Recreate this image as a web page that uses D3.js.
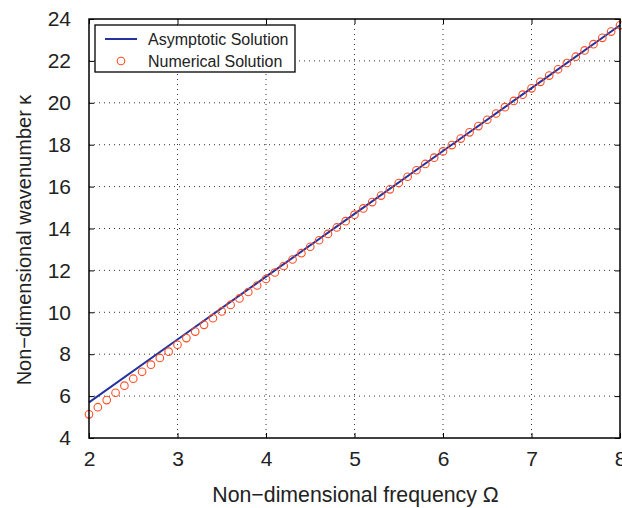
<!DOCTYPE html>
<html>
<head>
<meta charset="utf-8">
<script src="https://cdn.jsdelivr.net/npm/d3@7"></script>
<style>
  html, body { margin: 0; padding: 0; background: #fff; }
  svg { display: block; font-family: "Liberation Sans", Arial, Helvetica, sans-serif; }
</style>
</head>
<body>
<svg id="chart" width="622" height="508"></svg>
<script>
// Asymptotic solution, sampled at integer frequencies
const asymOmega = [2, 3, 4, 5, 6, 7, 8];
const asymKappa = [5.7, 8.7, 11.7, 14.7, 17.7, 20.7, 23.7];

// Numerical solution, sampled every 0.1 in frequency
const numOmega = [
  2.0, 2.1, 2.2, 2.3, 2.4, 2.5, 2.6, 2.7, 2.8, 2.9,
  3.0, 3.1, 3.2, 3.3, 3.4, 3.5, 3.6, 3.7, 3.8, 3.9,
  4.0, 4.1, 4.2, 4.3, 4.4, 4.5, 4.6, 4.7, 4.8, 4.9,
  5.0, 5.1, 5.2, 5.3, 5.4, 5.5, 5.6, 5.7, 5.8, 5.9,
  6.0, 6.1, 6.2, 6.3, 6.4, 6.5, 6.6, 6.7, 6.8, 6.9,
  7.0, 7.1, 7.2, 7.3, 7.4, 7.5, 7.6, 7.7, 7.8, 7.9, 8.0
];
const numKappa = [
  5.13, 5.47, 5.81, 6.16, 6.50, 6.83, 7.16, 7.50, 7.82, 8.12,
  8.45, 8.77, 9.08, 9.40, 9.72, 10.04, 10.35, 10.66, 10.97, 11.28,
  11.59, 11.90, 12.21, 12.52, 12.82, 13.13, 13.44, 13.74, 14.05, 14.35,
  14.66, 14.96, 15.26, 15.57, 15.87, 16.17, 16.47, 16.78, 17.08, 17.38,
  17.68, 17.98, 18.29, 18.59, 18.89, 19.19, 19.49, 19.79, 20.09, 20.39,
  20.69, 21.00, 21.30, 21.60, 21.90, 22.20, 22.50, 22.80, 23.10, 23.40, 23.70
];

const xTicks = [2, 3, 4, 5, 6, 7, 8];
const yTicks = [4, 6, 8, 10, 12, 14, 16, 18, 20, 22, 24];

const xLabel = "Non\u2212dimensional frequency \u03A9";
const yLabel = "Non\u2212dimensional wavenumber \u03BA";
const legendLabels = ["Asymptotic Solution", "Numerical Solution"];

const lineColor = "#2533a0";
const markerColor = "#ff4e24";

const svg = d3.select("#chart");
const plot = { left: 89, right: 620, top: 19, bottom: 438 };

const x = d3.scaleLinear().domain([2, 8]).range([plot.left, plot.right]);
const y = d3.scaleLinear().domain([4, 24]).range([plot.bottom, plot.top]);

// Dotted grid
const grid = svg.append("g").attr("stroke", "#333").attr("stroke-width", 1)
  .attr("stroke-dasharray", "1,4").attr("fill", "none");
xTicks.slice(1, -1).forEach(t => {
  grid.append("line").attr("x1", x(t)).attr("x2", x(t))
    .attr("y1", plot.top).attr("y2", plot.bottom);
});
yTicks.slice(1, -1).forEach(t => {
  grid.append("line").attr("x1", plot.left).attr("x2", plot.right)
    .attr("y1", y(t)).attr("y2", y(t));
});

// Axes with inward ticks on all four sides
const tickLen = 5;
const fontTick = 21;
const fmt = d3.format("d");
const axB = svg.append("g").attr("transform", `translate(0,${plot.bottom})`)
  .call(d3.axisBottom(x).tickValues(xTicks).tickFormat(fmt).tickSizeInner(-tickLen).tickSizeOuter(0).tickPadding(13));
const axT = svg.append("g").attr("transform", `translate(0,${plot.top})`)
  .call(d3.axisTop(x).tickValues(xTicks).tickSizeInner(-tickLen).tickSizeOuter(0).tickFormat(""));
const axL = svg.append("g").attr("transform", `translate(${plot.left},0)`)
  .call(d3.axisLeft(y).tickValues(yTicks).tickFormat(fmt).tickSizeInner(-tickLen).tickSizeOuter(0).tickPadding(18));
const axR = svg.append("g").attr("transform", `translate(${plot.right},0)`)
  .call(d3.axisRight(y).tickValues(yTicks).tickSizeInner(-tickLen).tickSizeOuter(0).tickFormat(""));

[axB, axT, axL, axR].forEach(a => {
  a.select(".domain").remove();
  a.selectAll(".tick line").attr("stroke", "#000").attr("stroke-width", 1);
  a.selectAll(".tick text").attr("fill", "#222").attr("font-size", fontTick)
    .attr("font-family", "'Liberation Sans', Arial, sans-serif");
});

// Asymptotic line
const line = d3.line().x((d, i) => x(asymOmega[i])).y(d => y(d));
svg.append("path").datum(asymKappa).attr("d", line)
  .attr("fill", "none").attr("stroke", lineColor).attr("stroke-width", 2);

// Numerical markers
svg.append("g").selectAll("circle").data(numKappa).join("circle")
  .attr("cx", (d, i) => x(numOmega[i])).attr("cy", d => y(d)).attr("r", 3.8)
  .attr("fill", "none").attr("stroke", markerColor).attr("stroke-width", 1.1);

// Axis box
svg.append("rect").attr("x", plot.left).attr("y", plot.top)
  .attr("width", plot.right - plot.left).attr("height", plot.bottom - plot.top)
  .attr("fill", "none").attr("stroke", "#000").attr("stroke-width", 1.5);

// Axis titles
svg.append("text").attr("x", 355.5).attr("y", 502).attr("text-anchor", "middle")
  .attr("font-size", 21.3).attr("fill", "#222").text(xLabel);
svg.append("text").attr("transform", "translate(31,240) rotate(-90)")
  .attr("text-anchor", "middle").attr("font-size", 20).attr("fill", "#222").text(yLabel);

// Legend
const lg = svg.append("g");
lg.append("rect").attr("x", 95).attr("y", 25).attr("width", 200).attr("height", 47)
  .attr("fill", "#fff").attr("stroke", "#000").attr("stroke-width", 1.3);
lg.append("line").attr("x1", 105).attr("x2", 137).attr("y1", 39).attr("y2", 39)
  .attr("stroke", lineColor).attr("stroke-width", 2);
lg.append("circle").attr("cx", 121).attr("cy", 61).attr("r", 3.8)
  .attr("fill", "none").attr("stroke", markerColor).attr("stroke-width", 1.1);
lg.selectAll("text.leg").data(legendLabels).join("text").attr("class", "leg")
  .attr("x", 148).attr("y", (d, i) => 45 + i * 22)
  .attr("font-size", 16).attr("fill", "#222").text(d => d);
</script>
</body>
</html>
